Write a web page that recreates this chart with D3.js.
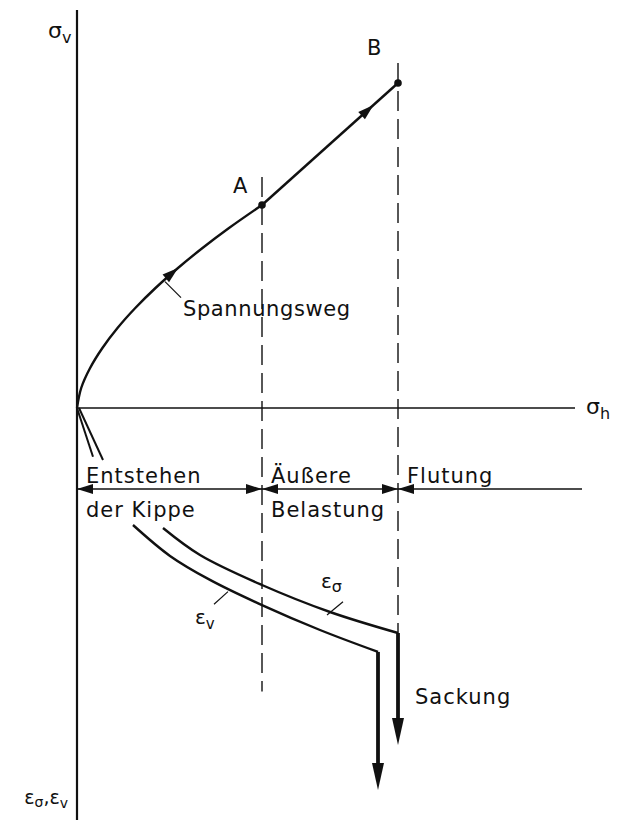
<!DOCTYPE html>
<html>
<head>
<meta charset="utf-8">
<script src="https://cdn.jsdelivr.net/npm/d3@7"></script>
<style>
  body { margin: 0; background: #fff; }
  text { font-family: "DejaVu Sans", sans-serif; fill: #111; }
</style>
</head>
<body>
<div id="chart"></div>
<script>
// Stress path (sigma_h, sigma_v) in drawing units.
var stressCurve = [[0, 0], [0.84, 5], [2.62, 10], [5.08, 15], [8.1, 20], [11.66, 25],
    [15.7, 30], [20.2, 35], [25.1, 40], [30.4, 45], [37, 50.75]];
var pointA = [37, 50.75];
var pointB = [64.2, 81.25];

// Strain curves (time axis, strain downwards).
var epsV = [[11.2, 12], [18.6, 22.3], [26.6, 30.3], [37, 38.7], [48.6, 47], [60.2, 54.3]];
var epsSigma = [[17.2, 13], [24.6, 22], [37, 32], [50.6, 41], [64.2, 48]];
var epsVEnd = 100.3;
var epsSigmaEnd = 85.3;

// Phase boundaries and labels.
var phaseBounds = [0, 37, 64.2, 101];
var phaseTop = ["Entstehen", "Äußere", "Flutung"];
var phaseBottom = ["der Kippe", "Belastung", ""];

var width = 620, height = 820;

var svg = d3.select("#chart").append("svg")
    .attr("width", width)
    .attr("height", height);

// Scales
var x = d3.scaleLinear().domain([0, 100]).range([77, 577]);
var ySig = d3.scaleLinear().domain([0, 100]).range([408, 8]);
var yEps = d3.scaleLinear().domain([0, 100]).range([489, 789]);

var ink = "#111";

// Vertical axis
svg.append("line")
    .attr("x1", x(0)).attr("x2", x(0))
    .attr("y1", 10).attr("y2", height)
    .attr("stroke", ink).attr("stroke-width", 2.2);

// sigma_h axis
svg.append("line")
    .attr("x1", x(0)).attr("x2", x(99.6))
    .attr("y1", ySig(0)).attr("y2", ySig(0))
    .attr("stroke", ink).attr("stroke-width", 1.6);

// time line
svg.append("line")
    .attr("x1", x(0)).attr("x2", x(101))
    .attr("y1", yEps(0)).attr("y2", yEps(0))
    .attr("stroke", ink).attr("stroke-width", 1.6);

// Dashed verticals at A and B
svg.append("line")
    .attr("x1", x(pointA[0])).attr("x2", x(pointA[0]))
    .attr("y1", ySig(pointA[1]) - 28).attr("y2", yEps(67.5))
    .attr("stroke", ink).attr("stroke-width", 1.4)
    .attr("stroke-dasharray", "20,8");
svg.append("line")
    .attr("x1", x(pointB[0])).attr("x2", x(pointB[0]))
    .attr("y1", ySig(pointB[1]) - 20).attr("y2", yEps(epsSigma[epsSigma.length - 1][1]))
    .attr("stroke", ink).attr("stroke-width", 1.4)
    .attr("stroke-dasharray", "20,8");

// Stress path
var lineSig = d3.line()
    .x(d => x(d[0]))
    .y(d => ySig(d[1]))
    .curve(d3.curveCatmullRom);
svg.append("path")
    .attr("d", lineSig(stressCurve))
    .attr("fill", "none").attr("stroke", ink).attr("stroke-width", 2.4);
svg.append("line")
    .attr("x1", x(pointA[0])).attr("y1", ySig(pointA[1]))
    .attr("x2", x(pointB[0])).attr("y2", ySig(pointB[1]))
    .attr("stroke", ink).attr("stroke-width", 2.4);

// Arrow heads
function bigHead(px, py, ang) {
    svg.append("path")
        .attr("d", "M0,0 L-16,-5 L-16,5 Z")
        .attr("transform", "translate(" + px + "," + py + ") rotate(" + ang + ")")
        .attr("fill", ink);
}
function headOn(p0, p1, at, sy) {
    var dx = x(p1[0]) - x(p0[0]), dy = sy(p1[1]) - sy(p0[1]);
    bigHead(x(at[0]), sy(at[1]), Math.atan2(dy, dx) * 180 / Math.PI);
}
headOn(stressCurve[6], stressCurve[8], stressCurve[7], ySig);
var tB = 0.82;
headOn(pointA, pointB,
       [pointA[0] + (pointB[0] - pointA[0]) * tB, pointA[1] + (pointB[1] - pointA[1]) * tB], ySig);

// Points A and B
svg.selectAll(".pt").data([pointA, pointB]).enter().append("circle")
    .attr("cx", d => x(d[0])).attr("cy", d => ySig(d[1]))
    .attr("r", 3.8).attr("fill", ink);

svg.append("text").attr("x", x(pointA[0]) - 29).attr("y", ySig(pointA[1]) - 12)
    .attr("font-size", 21).text("A");
svg.append("text").attr("x", x(pointB[0]) - 31).attr("y", ySig(pointB[1]) - 28)
    .attr("font-size", 21).text("B");

// Lines from origin down to the first phase
var originTicks = [[[0, 0], [3.2, -12.2]], [[0.4, 0], [5.2, -13]]];
svg.selectAll(".tick0").data(originTicks).enter().append("line")
    .attr("x1", d => x(d[0][0])).attr("y1", d => ySig(d[0][1]))
    .attr("x2", d => x(d[1][0])).attr("y2", d => ySig(d[1][1]))
    .attr("stroke", ink).attr("stroke-width", 2);

// Spannungsweg label + leader
svg.append("line")
    .attr("x1", x(17.6)).attr("y1", ySig(31.6))
    .attr("x2", x(20.8)).attr("y2", ySig(27.6))
    .attr("stroke", ink).attr("stroke-width", 1.2);
svg.append("text").attr("x", x(21.2)).attr("y", 316)
    .attr("font-size", 21).attr("letter-spacing", 0.6).text("Spannungsweg");

// Axis labels
var lab = svg.append("text").attr("x", 48).attr("y", 38).attr("font-size", 22);
lab.append("tspan").text("σ");
lab.append("tspan").attr("font-size", 16).attr("dy", 5).text("v");

var labH = svg.append("text").attr("x", x(101.8)).attr("y", ySig(0) + 6).attr("font-size", 22);
labH.append("tspan").text("σ");
labH.append("tspan").attr("font-size", 16).attr("dy", 5).text("h");

var labE = svg.append("text").attr("x", 68).attr("y", 804).attr("font-size", 19)
    .attr("text-anchor", "end");
labE.append("tspan").text("ε");
labE.append("tspan").attr("font-size", 14).attr("dy", 3).text("σ");
labE.append("tspan").attr("dy", -3).text(",ε");
labE.append("tspan").attr("font-size", 14).attr("dy", 4).text("v");

// Phase dimension arrows on the time line
phaseTop.forEach(function(t, i) {
    var a = phaseBounds[i], b = phaseBounds[i + 1];
    var y0 = yEps(0);
    bigHead(x(a), y0, 180);
    if (i < 2) bigHead(x(b), y0, 0);
    svg.append("text").attr("x", x(a) + 9).attr("y", y0 - 6)
        .attr("font-size", 21).attr("letter-spacing", 1).text(t);
    svg.append("text").attr("x", x(a) + 9).attr("y", y0 + 28)
        .attr("font-size", 21).attr("letter-spacing", 1).text(phaseBottom[i]);
});

// Strain curves
var lineEps = d3.line()
    .x(d => x(d[0]))
    .y(d => yEps(d[1]))
    .curve(d3.curveCatmullRom);
[epsV, epsSigma].forEach(function(s) {
    svg.append("path")
        .attr("d", lineEps(s))
        .attr("fill", "none").attr("stroke", ink).attr("stroke-width", 2.4);
});

// Settlement arrows
[[epsV, epsVEnd], [epsSigma, epsSigmaEnd]].forEach(function(p) {
    var last = p[0][p[0].length - 1];
    svg.append("line")
        .attr("x1", x(last[0])).attr("y1", yEps(last[1]))
        .attr("x2", x(last[0])).attr("y2", yEps(p[1]) - 20)
        .attr("stroke", ink).attr("stroke-width", 3.8);
    svg.append("path")
        .attr("d", "M0,0 L-6,-27 L6,-27 Z")
        .attr("transform", "translate(" + x(last[0]) + "," + yEps(p[1]) + ")")
        .attr("fill", ink);
});

// Strain labels + leaders
svg.append("line")
    .attr("x1", x(30.2)).attr("y1", yEps(34.2))
    .attr("x2", x(27.4)).attr("y2", yEps(38.4))
    .attr("stroke", ink).attr("stroke-width", 1.2);
var ev = svg.append("text").attr("x", x(23.6)).attr("y", yEps(45)).attr("font-size", 20);
ev.append("tspan").text("ε");
ev.append("tspan").attr("font-size", 15).attr("dy", 5).text("v");

svg.append("line")
    .attr("x1", x(53.2)).attr("y1", yEps(37.6))
    .attr("x2", x(50)).attr("y2", yEps(42))
    .attr("stroke", ink).attr("stroke-width", 1.2);
var es = svg.append("text").attr("x", x(48.8)).attr("y", yEps(33)).attr("font-size", 20);
es.append("tspan").text("ε");
es.append("tspan").attr("font-size", 16).attr("dy", 4).text("σ");

svg.append("text").attr("x", x(67.6)).attr("y", yEps(71.5))
    .attr("font-size", 21).attr("letter-spacing", 1).text("Sackung");
</script>
</body>
</html>
